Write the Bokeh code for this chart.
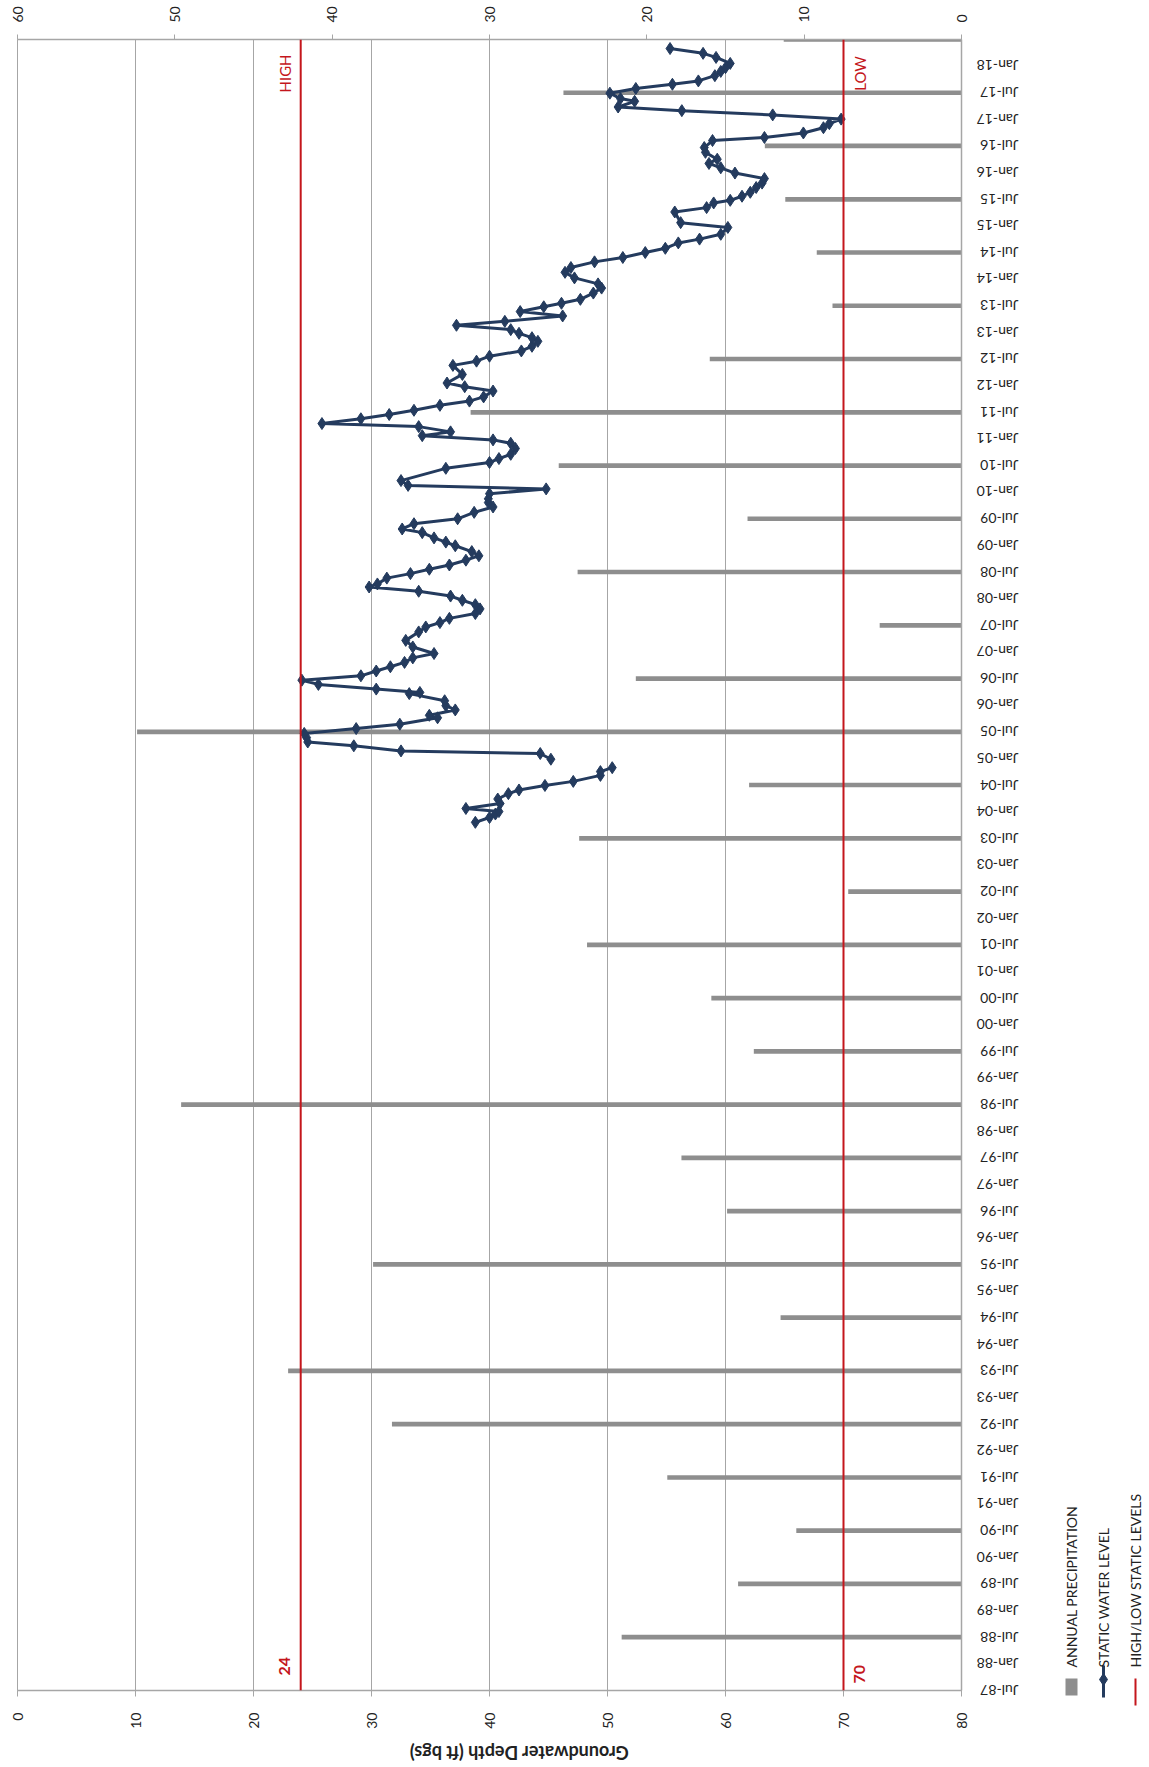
import math
from datetime import datetime
import numpy as np
import pandas as pd
from bokeh.plotting import figure
from bokeh.models import (Range1d, LinearAxis, SingleIntervalTicker, DatetimeTickFormatter,
                          FixedTicker, Span, Label, ColumnDataSource)
from bokeh.layouts import row, column
from bokeh.embed import file_html
from bokeh.resources import INLINE
from bokeh.core.properties import value

FONT = "Lato"
RED = "#c4161c"
NAVY = "#243b5e"
GRAY_BAR = "#8e8e8e"
GRID = "#a6a6a6"
TXT = "#222222"

# ---------------- data ----------------
precip_dates = ["1988-07-01", "1989-07-01", "1990-07-01", "1991-07-01", "1992-07-01",
                "1993-07-01", "1994-07-01", "1995-07-01", "1996-07-01", "1997-07-01",
                "1998-07-01", "1999-07-01", "2000-07-01", "2001-07-01", "2002-07-01",
                "2003-07-01", "2004-07-01", "2005-07-01", "2006-07-01", "2007-07-01",
                "2008-07-01", "2009-07-01", "2010-07-01", "2011-07-01", "2012-07-01",
                "2013-07-01", "2014-07-01", "2015-07-01", "2016-07-01", "2017-07-01",
                "2018-07-01"]
precip_values = [21.6, 14.2, 10.5, 18.7, 36.2, 42.8, 11.5, 37.4, 14.9, 17.8,
                 49.6, 13.2, 15.9, 23.8, 7.2, 24.3, 13.5, 52.4, 20.7, 5.2,
                 24.4, 13.6, 25.6, 31.2, 16.0, 8.2, 9.2, 11.2, 12.5, 25.3, 11.3]

NAN = float("nan")
wl_dates = [
    "2003-10-19", "2003-11-21", "2003-12-15", "2004-01-01", "2004-01-22", "2004-02-25",
    "2004-03-27", "2004-05-03", "2004-05-28", "2004-06-28", "2004-07-26", "2004-09-05",
    "2004-10-01", "2004-10-28", "2004-11-25", "2004-12-25", "2005-02-02", "2005-02-20",
    "2005-03-27", "2005-04-22", "2005-05-22", "2005-06-20", "2005-07-23", "2005-08-22",
    "2005-10-05", "2005-10-22", "2005-11-28", "2005-12-27", "2006-01-30", "2006-03-20",
    "2006-03-28", "2006-04-20", "2006-05-22", "2006-06-20", "2006-07-20", "2006-08-22",
    "2006-09-20", "2006-10-20", "2006-11-20", "2006-12-20", "2007-02-03", "2007-03-20",
    "2007-05-17", "2007-06-20", "2007-07-20", "2007-08-18", "2007-09-20", "2007-10-22",
    "2007-11-20", "2007-12-20", "2008-01-18", "2008-02-20", "2008-03-20", "2008-04-10",
    "2008-05-20", "2008-06-20", "2008-07-20", "2008-08-18", "2008-09-20", "2008-10-20",
    "2008-11-18", "2008-12-28", "2009-01-22", "2009-02-20", "2009-03-28", "2009-04-22",
    "2009-05-28", "2009-07-01", "2009-08-14", "2009-09-20", "2009-10-20", "2009-11-15",
    "2009-12-20", "2010-01-22", "2010-02-15", "2010-03-20", "2010-06-12", "2010-07-22",
    "2010-08-18", "2010-09-16", "2010-10-26", "2010-12-01", "2010-12-24", "2011-01-22",
    "2011-02-17", "2011-03-25", "2011-04-15", "2011-05-18", "2011-06-16", "2011-07-15",
    "2011-08-18", "2011-09-16", "2011-10-15", "2011-11-24", "2011-12-24", "2012-01-18",
    "2012-03-17", "2012-05-18", "2012-06-16", "2012-07-20", "2012-08-25", "2012-09-26",
    "2012-10-30", "2012-11-24", "2012-12-24", "2013-01-18", "2013-02-17", "2013-03-16",
    "2013-04-22", "2013-05-22", "2013-06-24", "2013-07-18", "2013-08-14", "2013-09-26",
    "2013-10-30", "2013-11-28", "2014-01-08", "2014-02-15", "2014-03-20", "2014-04-28",
    "2014-05-28", "2014-07-01", "2014-07-30", "2014-09-05", "2014-10-01", "2014-11-03",
    "2014-12-20", "2015-01-22", "2015-04-05", "2015-05-05", "2015-06-06", "2015-06-24",
    "2015-07-22", "2015-08-18", "2015-09-20", "2015-10-20", "2015-11-20", "2015-12-28",
    "2016-02-02", "2016-03-03", "2016-04-01", "2016-05-18", "2016-06-20", "2016-08-07",
    "2016-08-28", "2016-09-28", "2016-11-03", "2016-12-01", "2017-01-01", "2017-01-30",
    "2017-02-28", "2017-03-25", "2017-05-03", "2017-05-22", "2017-06-28", "2017-07-30",
    "2017-08-28", "2017-09-20", "2017-10-26", "2017-11-24", "2017-12-20", "2018-01-18",
    "2018-02-28", "2018-03-28", "2018-04-30"]
wl_depth = [
    38.8, 40.0, 40.5, 40.8, 38.0, 40.9,
    40.7, 41.6, 42.5, 44.7, 47.1, 49.4,
    49.4, 50.4, NAN, 45.2, 44.3, 32.5,
    28.5, 24.6, 24.5, 24.3, 28.7, 32.4,
    35.6, 34.9, 37.1, 36.3, 36.2, 33.2,
    34.1, 30.4, 25.5, 24.1, 29.1, 30.4,
    31.6, 32.8, 33.5, 35.3, 33.5, 32.9,
    34.0, 34.6, 35.8, 36.6, 38.8, 39.2,
    38.8, 37.7, 36.7, 34.0, 29.8, 30.5,
    31.3, 33.3, 34.9, 36.6, 38.0, 39.1,
    38.5, 37.1, 36.3, 35.3, 34.3, 32.6,
    33.6, 37.3, 38.7, 40.3, 39.9, 39.9,
    40.0, 44.8, 33.1, 32.5, 36.3, 40.0,
    40.8, 41.8, 42.2, 41.8, 40.3, 34.3,
    36.7, 34.0, 25.8, 29.1, 31.5, 33.6,
    35.8, 38.3, 39.5, 40.3, 37.9, 36.4,
    37.7, 36.9, 38.9, 40.0, 42.7, 43.6,
    44.1, 43.6, 42.5, 41.8, 37.2, 41.3,
    46.2, 42.6, 44.6, 46.1, 47.7, 48.8,
    49.5, 49.2, 47.2, 46.4, 46.9, 48.9,
    51.3, 53.2, 54.9, 56.0, 57.8, 59.6,
    60.2, 56.2, 55.7, 58.4, 59.0, 60.4,
    61.4, 62.1, 62.6, 63.1, 63.3, 60.8,
    59.6, 58.6, 59.3, 58.3, 58.2, 58.9,
    63.3, 66.6, 68.3, 68.8, 69.8, 64.0,
    56.3, 50.9, 52.3, 51.1, 50.2, 52.4,
    55.5, 57.7, 59.1, 59.6, 60.0, 60.4,
    59.2, 58.1, 55.3]

high_level = 24
low_level = 70
depth_ticks_interval = 10
precip_ticks_interval = 10
date_tick_years = list(range(1987, 2019))
depth_title = "Groundwater Depth (ft bgs)"


def ms(s):
    return pd.Timestamp(s).value / 1e6


date_ticks = []
for yr in date_tick_years:
    for md in ("01-01", "07-01"):
        t = ms(f"{yr}-{md}")
        if ms("1987-07-01") <= t <= ms("2018-01-01"):
            date_ticks.append(t)

# ---------------- main figure ----------------
PAGE_W = 1149
MAIN_W = 1063
MAIN_H = 1735
TITLE_H = 30
TOTAL_H = MAIN_H + TITLE_H
depth_range = Range1d(0, 80)
p = figure(width=MAIN_W, height=MAIN_H,
           x_range=depth_range,
           y_range=Range1d(datetime(1987, 7, 1), datetime(2018, 7, 1)),
           y_axis_type="datetime", y_axis_location="right",
           output_backend="svg", toolbar_location=None,
           min_border_left=17, min_border_right=0, min_border_top=39, min_border_bottom=45)
p.extra_x_ranges = {"precip": Range1d(60, 0)}
p.background_fill_color = "white"
p.border_fill_color = "white"
p.outline_line_color = GRID

depth_ticker = SingleIntervalTicker(interval=depth_ticks_interval, num_minor_ticks=0)
xax = p.below[0]
xax.ticker = depth_ticker
p.xgrid.ticker = depth_ticker
p.xgrid.grid_line_color = GRID
p.xgrid.grid_line_width = 1
p.ygrid.grid_line_color = None

xax.major_label_orientation = math.pi / 2
xax.major_label_text_font = FONT
xax.major_label_text_font_size = "14px"
xax.major_label_text_color = TXT
xax.major_label_standoff = 16
xax.major_tick_out = 6
xax.major_tick_in = 0
xax.axis_line_color = GRID
xax.axis_line_width = 1.5
xax.major_tick_line_color = GRID

top = LinearAxis(x_range_name="precip",
                 ticker=SingleIntervalTicker(interval=precip_ticks_interval, num_minor_ticks=0))
top.major_label_orientation = math.pi / 2
top.major_label_text_font = FONT
top.major_label_text_font_size = "14px"
top.major_label_text_color = TXT
top.major_label_standoff = 12
top.major_tick_out = 5
top.major_tick_in = 0
top.axis_line_color = GRID
top.axis_line_width = 1.5
top.major_tick_line_color = GRID
p.add_layout(top, "above")

yax = p.right[0]
yax.ticker = FixedTicker(ticks=date_ticks)
yax.formatter = DatetimeTickFormatter(months="%b-%y", years="%b-%y", days="%b-%y")
yax.major_label_orientation = math.pi
yax.major_label_text_font = FONT
yax.major_label_text_font_size = "14px"
yax.major_label_text_color = TXT
yax.major_label_standoff = 57
yax.major_tick_out = 0
yax.major_tick_in = 0
yax.minor_tick_out = 0
yax.minor_tick_in = 0
yax.axis_line_color = GRID
yax.axis_line_width = 1.5

# precipitation bars
psrc = ColumnDataSource(dict(y=pd.to_datetime(precip_dates), right=precip_values))
p.hbar(y="y", left=0, right="right", height=32 * 86400000, source=psrc,
       x_range_name="precip", fill_color=GRAY_BAR, line_color=None)

# high / low levels
p.add_layout(Span(location=high_level, dimension="height", line_color=RED, line_width=2))
p.add_layout(Span(location=low_level, dimension="height", line_color=RED, line_width=2))

# static water level
wsrc = ColumnDataSource(dict(t=pd.to_datetime(wl_dates), d=np.array(wl_depth, dtype=float)))
p.line(x="d", y="t", source=wsrc, line_color=NAVY, line_width=3)
p.scatter(x="d", y="t", source=wsrc, marker="diamond", size=12,
          fill_color=NAVY, line_color=NAVY)

# level annotations
for txt, x, yd, xo, bold in [("HIGH", high_level, "2017-11-10", -16, False),
                             ("24", high_level, "1987-12-15", -16, True),
                             ("LOW", low_level, "2017-11-10", 16, False),
                             ("70", low_level, "1987-10-20", 16, True)]:
    p.add_layout(Label(x=x, y=ms(yd), text=txt, angle=math.pi / 2, x_offset=xo,
                       text_align="center", text_baseline="middle",
                       text_color=RED, text_font=FONT,
                       text_font_size="16px" if bold else "15px",
                       text_font_style="bold" if bold else "normal"))

# ---------------- depth-axis title strip (upside-down text, as in the rotated original) ----
# shares the depth range, its frame is aligned with the main frame by the column layout
tfig = figure(width=MAIN_W, height=TITLE_H, x_range=depth_range, y_range=Range1d(TITLE_H, 0),
              x_axis_location=None, y_axis_location=None,
              output_backend="svg", toolbar_location=None,
              min_border_left=17, min_border_right=MAIN_W - 17 - 944, min_border_top=0,
              min_border_bottom=0)
tfig.grid.visible = False
tfig.outline_line_color = None
tfig.background_fill_color = "white"
tfig.border_fill_color = "white"
tfig.text(x=[42.5], y=[17], text=[depth_title], angle=math.pi,
          text_align="center", text_baseline="middle", text_font=value(FONT),
          text_font_size="18px", text_font_style="bold", text_color=TXT)

# ---------------- legend (separate panel, rotated text) ----------------
LEG_W = PAGE_W - MAIN_W
leg = figure(width=LEG_W, height=TOTAL_H, x_range=Range1d(0, LEG_W), y_range=Range1d(TOTAL_H, 0),
             x_axis_location=None, y_axis_location=None,
             output_backend="svg", toolbar_location=None, min_border=0)
leg.grid.visible = False
leg.outline_line_color = None
leg.background_fill_color = "white"
leg.border_fill_color = "white"

leg_labels = ["ANNUAL PRECIPITATION", "STATIC WATER LEVEL", "HIGH/LOW STATIC LEVELS"]
leg_x = [8, 40, 72]
leg.rect(x=[leg_x[0]], y=[1686.5], width=12, height=17, fill_color=GRAY_BAR, line_color=None)
leg.line(x=[leg_x[1], leg_x[1]], y=[1665, 1697], line_color=NAVY, line_width=3)
leg.scatter(x=[leg_x[1]], y=[1679], marker="diamond", size=12, fill_color=NAVY, line_color=NAVY)
leg.line(x=[leg_x[2], leg_x[2]], y=[1678, 1705], line_color=RED, line_width=2)
leg.text(x=leg_x, y=[1667, 1667, 1667], text=leg_labels, angle=math.pi / 2,
         text_align="left", text_baseline="middle", text_font=value(FONT),
         text_font_size="14px", text_color=TXT)

layout = row(column(p, tfig), leg)
open("out.html", "w").write(file_html(layout, INLINE))
